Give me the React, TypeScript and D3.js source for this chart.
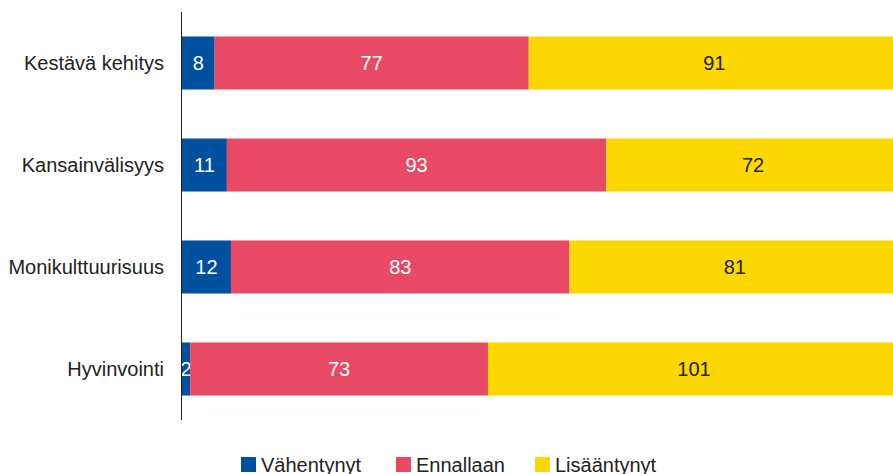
import React from "react";
import * as d3 from "d3";

const categories = ["Kestävä kehitys", "Kansainvälisyys", "Monikulttuurisuus", "Hyvinvointi"];
const seriesNames = ["Vähentynyt", "Ennallaan", "Lisääntynyt"];
const vahentynyt = [8, 11, 12, 2];
const ennallaan = [77, 93, 83, 73];
const lisaantynyt = [91, 72, 81, 101];
const colors = ["#0050A0", "#E84A66", "#FDD800"];
const labelColors = ["#ffffff", "#ffffff", "#222222"];

export default function App() {
  const W = 893, H = 474;
  const series = [vahentynyt, ennallaan, lisaantynyt];
  const rows = categories.map((c, i) => ({ c, v: series.map((s) => s[i]) }));
  const maxTotal = d3.max(rows, (r) => d3.sum(r.v)) as number;
  const x = d3.scaleLinear().domain([0, maxTotal]).range([182, 900]);
  const y = d3.scaleBand().domain(categories).range([12, 420]).paddingInner(0.48).paddingOuter(0.24);
  const font = "Liberation Sans, Arial, sans-serif";
  const legendX = [241, 396, 535];
  return (
    <svg width={W} height={H} style={{ position: "absolute", left: 0, top: 0, display: "block" }}>
      <rect width={W} height={H} fill="#fff" />
      {rows.map((r) => {
        let acc = 0;
        const y0 = y(r.c)!;
        return (
          <g key={r.c}>
            {r.v.map((v, k) => {
              const x0 = x(acc);
              acc += v;
              const x1 = x(acc);
              return (
                <g key={k}>
                  <rect x={x0} y={y0} width={x1 - x0} height={y.bandwidth()} fill={colors[k]} />
                  <text x={(x0 + x1) / 2} y={y0 + y.bandwidth() / 2} dy="0.35em" textAnchor="middle"
                    fontFamily={font} fontSize={20} fill={labelColors[k]}>{v}</text>
                </g>
              );
            })}
            <text x={164} y={y0 + y.bandwidth() / 2} dy="0.35em" textAnchor="end" fontFamily={font}
              fontSize={20} fill="#222">{r.c}</text>
          </g>
        );
      })}
      <line x1={181.5} x2={181.5} y1={12} y2={420} stroke="#222" strokeWidth={1} />
      {seriesNames.map((n, k) => (
        <g key={n}>
          <rect x={legendX[k]} y={457} width={15} height={15} fill={colors[k]} />
          <text x={legendX[k] + 20} y={472} fontFamily={font} fontSize={20} fill="#222">{n}</text>
        </g>
      ))}
    </svg>
  );
}
